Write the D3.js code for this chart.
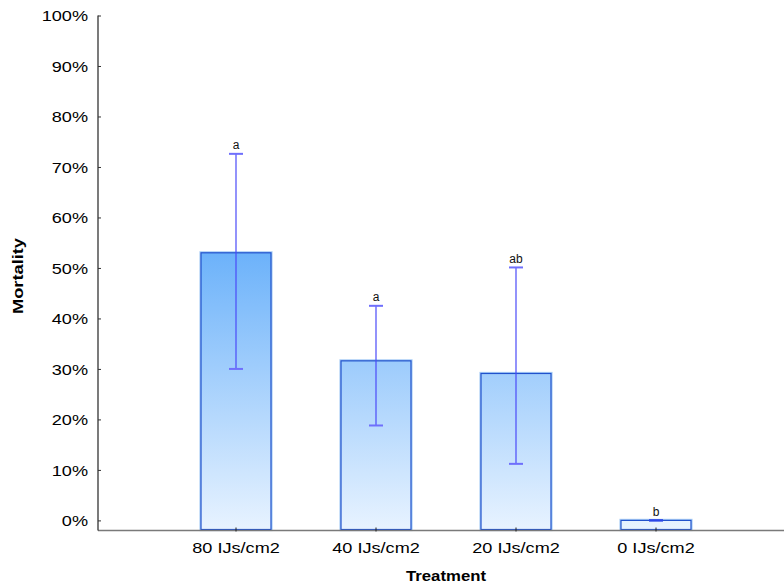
<!DOCTYPE html>
<html>
<head>
<meta charset="utf-8">
<script src="https://cdn.jsdelivr.net/npm/d3@7"></script>
<style>
  html, body { margin: 0; padding: 0; background: #fff; }
  svg { display: block; font-family: "Liberation Sans", Arial, sans-serif; }
</style>
</head>
<body>
<svg id="chart" width="784" height="588"></svg>
<script>
// Mortality by treatment dose (mean with interval), letters mark significance groups
const categories = ["80 IJs/cm2", "40 IJs/cm2", "20 IJs/cm2", "0 IJs/cm2"];
const mortality  = [0.530, 0.316, 0.291, 0.000];
const lowerBound = [0.300, 0.188, 0.112, 0.000];
const upperBound = [0.726, 0.425, 0.501, 0.000];
const groupLetters = ["a", "a", "ab", "b"];
const yTickValues = [0, 0.1, 0.2, 0.3, 0.4, 0.5, 0.6, 0.7, 0.8, 0.9, 1.0];

const svg = d3.select("#chart");
const axisX0 = 98, axisX1 = 784;
const plotTop = 15.5, plotBottom = 530.5;
const stretch = 1.17;

const y = d3.scaleLinear().domain([-0.02, 1.0]).range([plotBottom, plotTop]);
const x = d3.scaleBand().domain(categories).range([166, 726])
  .paddingInner(0.5).paddingOuter(0.25);

// vertical gradient shared by all bars
const defs = svg.append("defs");
const grad = defs.append("linearGradient")
  .attr("id", "barFill")
  .attr("gradientUnits", "userSpaceOnUse")
  .attr("x1", 0).attr("x2", 0)
  .attr("y1", y(d3.max(mortality))).attr("y2", y(-0.02));
grad.append("stop").attr("offset", "0%").attr("stop-color", "#6cb2fa");
grad.append("stop").attr("offset", "100%").attr("stop-color", "#e8f3ff");

const rows = categories.map((c, i) => ({
  c, v: mortality[i], lo: lowerBound[i], hi: upperBound[i], g: groupLetters[i]
}));

// bars: soft halo then dark outline
const bars = svg.append("g");
bars.selectAll("rect.halo").data(rows).join("rect")
  .attr("class", "halo")
  .attr("x", d => x(d.c))
  .attr("y", d => y(d.v))
  .attr("width", x.bandwidth())
  .attr("height", d => y(-0.02) - y(d.v) - 1)
  .attr("fill", "none")
  .attr("stroke", "#a9cdf6")
  .attr("stroke-width", 3.2);
bars.selectAll("rect.bar").data(rows).join("rect")
  .attr("class", "bar")
  .attr("x", d => x(d.c))
  .attr("y", d => y(d.v))
  .attr("width", x.bandwidth())
  .attr("height", d => y(-0.02) - y(d.v) - 1)
  .attr("fill", "url(#barFill)")
  .attr("stroke", "#2152cc")
  .attr("stroke-width", 1.2);

// x axis (gray baseline, short inward ticks)
const xAxis = svg.append("g")
  .attr("transform", `translate(0,${plotBottom})`)
  .call(d3.axisBottom(x).tickSize(-3).tickPadding(0).tickSizeOuter(0));
xAxis.select(".domain").remove();
xAxis.insert("line", ":first-child")
  .attr("x1", axisX0).attr("x2", axisX1)
  .attr("y1", 0).attr("y2", 0)
  .attr("stroke", "#7a7a7a").attr("stroke-width", 1.6);
xAxis.selectAll(".tick line").attr("stroke", "#222").attr("y1", 1);
xAxis.selectAll(".tick text")
  .attr("y", 22.5).attr("dy", null)
  .attr("fill", "#000")
  .style("font-size", "15.5px")
  .attr("transform", `scale(${stretch},1)`);

// y axis
const yAxis = svg.append("g")
  .attr("transform", `translate(${axisX0},0)`)
  .call(d3.axisLeft(y).tickValues(yTickValues).tickFormat(d3.format(".0%"))
    .tickSize(-3).tickSizeOuter(0));
yAxis.select(".domain").remove();
yAxis.insert("line", ":first-child")
  .attr("x1", 0).attr("x2", 0)
  .attr("y1", plotTop).attr("y2", plotBottom)
  .attr("stroke", "#333").attr("stroke-width", 1.3);
yAxis.selectAll(".tick line").attr("stroke", "#333");
yAxis.selectAll(".tick text")
  .attr("x", 0).attr("dy", "0.35em")
  .attr("fill", "#000")
  .style("font-size", "15.5px")
  .attr("transform", `translate(-10,0) scale(${stretch},1)`);

// interval whiskers
const err = svg.append("g");
err.selectAll("line.stem").data(rows).join("line")
  .attr("class", "stem")
  .attr("x1", d => x(d.c) + x.bandwidth() / 2)
  .attr("x2", d => x(d.c) + x.bandwidth() / 2)
  .attr("y1", d => y(d.hi)).attr("y2", d => y(d.lo))
  .attr("stroke", "#4a4af8").attr("stroke-width", 1.2);
const capW = 14;
["hi", "lo"].forEach(k => {
  err.selectAll(`line.cap-${k}`).data(rows).join("line")
    .attr("class", `cap-${k}`)
    .attr("x1", d => x(d.c) + x.bandwidth() / 2 - capW / 2)
    .attr("x2", d => x(d.c) + x.bandwidth() / 2 + capW / 2)
    .attr("y1", d => y(d[k])).attr("y2", d => y(d[k]))
    .attr("stroke", d => d.hi === d.lo ? "#2a46e8" : "#6f6ffc")
    .attr("stroke-width", 2);
});

// significance letters
svg.append("g").selectAll("text").data(rows).join("text")
  .attr("x", d => x(d.c) + x.bandwidth() / 2)
  .attr("y", d => y(d.hi) - 4.5)
  .attr("text-anchor", "middle")
  .style("font-size", "12px")
  .attr("fill", "#111")
  .text(d => d.g);

// axis titles
svg.append("text")
  .attr("x", 446).attr("y", 581)
  .attr("text-anchor", "middle")
  .style("font-size", "14px").style("font-weight", "bold")
  .attr("textLength", 80).attr("lengthAdjust", "spacingAndGlyphs")
  .text("Treatment");
svg.append("text")
  .attr("transform", "translate(23,276) rotate(-90)")
  .attr("text-anchor", "middle")
  .style("font-size", "14px").style("font-weight", "bold")
  .attr("textLength", 76).attr("lengthAdjust", "spacingAndGlyphs")
  .text("Mortality");
</script>
</body>
</html>
